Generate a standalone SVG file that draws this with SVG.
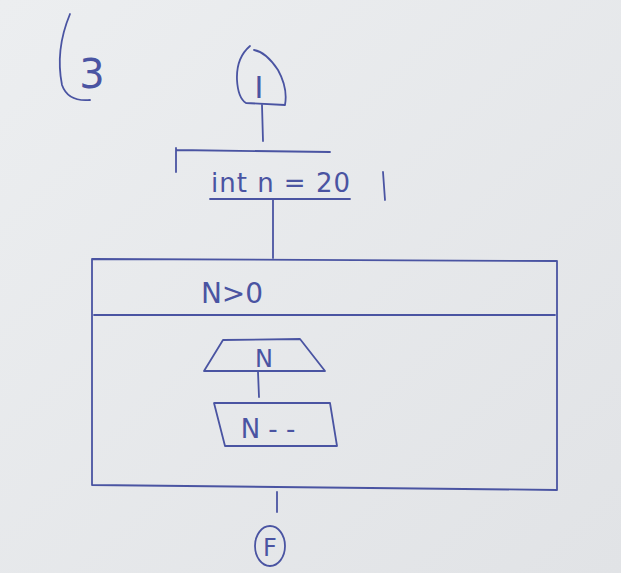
<svg xmlns="http://www.w3.org/2000/svg" width="621" height="573" viewBox="0 0 621 573">
<defs>
<style>
.s{fill:none;stroke:#4a54a2;stroke-width:1.8;stroke-linecap:round;stroke-linejoin:round}
.t{fill:#4a54a2;font-family:"DejaVu Sans","Liberation Sans",sans-serif;text-anchor:middle}
</style>
<linearGradient id="bg" x1="0" y1="0" x2="1" y2="1">
<stop offset="0" stop-color="#eceef0"/>
<stop offset="1" stop-color="#e1e3e6"/>
</linearGradient>
</defs>
<rect width="621" height="573" fill="url(#bg)"/>
<g id="label3">
<path class="s" d="M70 14 Q55 50 62 85 Q68 102 90 100"/>
<text class="t" x="92" y="88" font-size="40">3</text>
</g>
<g id="start">
<path class="s" d="M250 46 Q236 58 237 80 Q238 98 246 103 L285 105 Q288 88 278 70 Q266 52 254 50"/>
<text class="t" x="259" y="98" font-size="30">I</text>
</g>
<g id="init">
<path class="s" d="M176 150 L330 152 M176 148 L176 172 M210 199 L350 199 M383 172 L385 200"/>
<text class="t" x="281" y="192" font-size="26" letter-spacing="1">int n = 20</text>
</g>
<g id="loop">
<path class="s" d="M92 259 L557 261 L557 490 L92 485 Z M94 315 L555 315"/>
<text class="t" x="232" y="303" font-size="28">N&gt;0</text>
</g>
<g id="read">
<path class="s" d="M223 340 L300 339 L325 371 L204 371 Z"/>
<text class="t" x="264" y="367" font-size="24">N</text>
</g>
<g id="dec">
<path class="s" d="M214 403 L330 403 L337 446 L225 446 Z"/>
<text class="t" x="268" y="438" font-size="26">N - -</text>
</g>
<g id="end">
<ellipse class="s" cx="270" cy="546" rx="15" ry="20"/>
<text class="t" x="270" y="556" font-size="24">F</text>
</g>
<g id="connectors">
<path class="s" d="M262 105 L263 141"/>
<path class="s" d="M273 200 L273 258"/>
<path class="s" d="M258 372 L259 397"/>
<path class="s" d="M277 492 L277 512"/>
</g>
</svg>
